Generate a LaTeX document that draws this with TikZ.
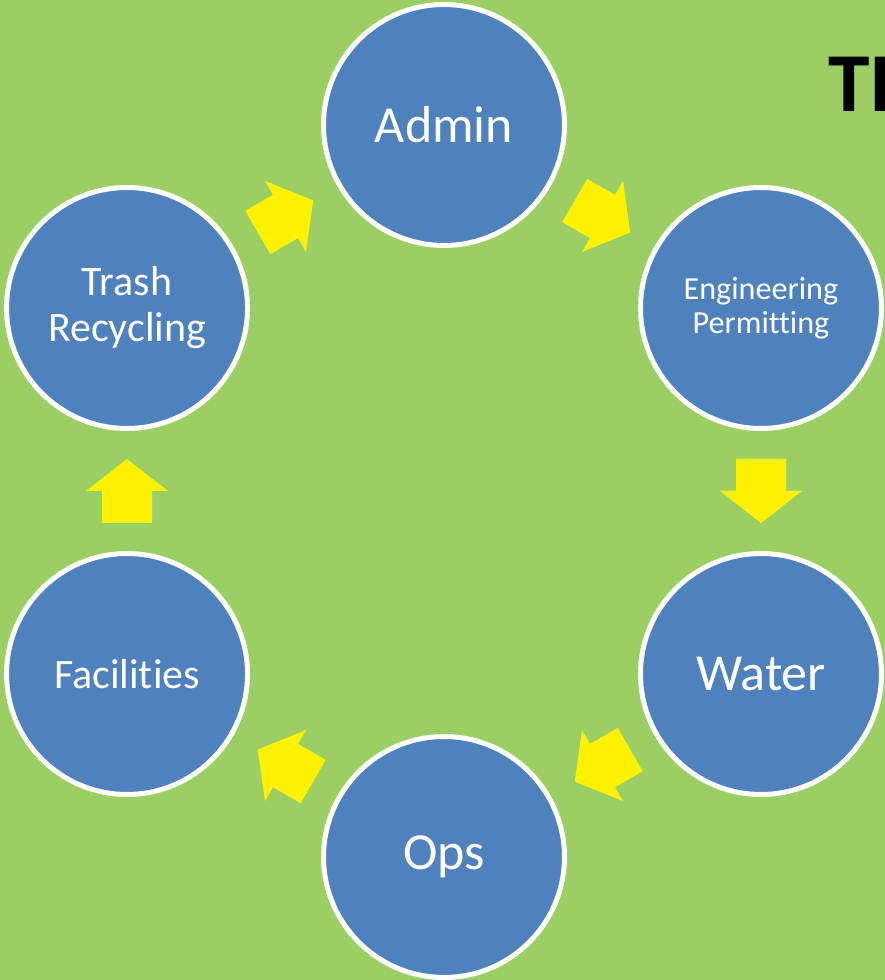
\documentclass[tikz,border=0pt]{standalone}
\usepackage{fontspec}
\setmainfont{Carlito}[Ligatures={NoCommon}]
\definecolor{bggreen}{RGB}{155,207,99}
\definecolor{stageblue}{RGB}{79,129,189}
\tikzset{
  stage/.style={circle, draw=white, line width=0.1cm, fill=stageblue, text=white,
    minimum size=4.82cm, inner sep=0pt, align=center},
  blockarr/.pic={\fill[yellow] (-32,25)--(0,25)--(0,41)--(32,0)--(0,-41)--(0,-25)--(-32,-25)--cycle;}
}
\begin{document}
\begin{tikzpicture}[x=0.02cm, y=0.02cm, line join=round]
			\def\R{366}  % circles
			\def\r{317}  % arrows
			\fill[bggreen] (0,0) rectangle (885,980);
			\clip (0,0) rectangle (885,980);
			\node[anchor=base west, font=\fontsize{47.7}{50}\selectfont\bfseries] (title) at (822,868) {TI};
			\begin{scope}[shift={(444,489)}]
			\node[stage, font=\fontsize{29.6}{32}\selectfont] (admin) at (90:\R) {Admin};
			\node[stage, font=\fontsize{18.3}{19.6}\selectfont] (eng) at (30:\R) {Engineering\\Permitting};
			\node[stage, font=\fontsize{29.6}{32}\selectfont] (water) at (-30:\R) {Water};
			\node[stage, font=\fontsize{29.6}{32}\selectfont] (ops) at (-90:\R) {Ops};
			\node[stage, font=\fontsize{23.9}{26.2}\selectfont] (fac) at (-150:\R) {Facilities};
			\node[stage, font=\fontsize{23.9}{26.2}\selectfont] (trash) at (150:\R) {Trash\\Recycling};
			\foreach \a in {60,0,-60,-120,180,120}
				\pic[rotate=\a-90] at (\a:\r) {blockarr};
			\end{scope}
		\end{tikzpicture}
\end{document}
